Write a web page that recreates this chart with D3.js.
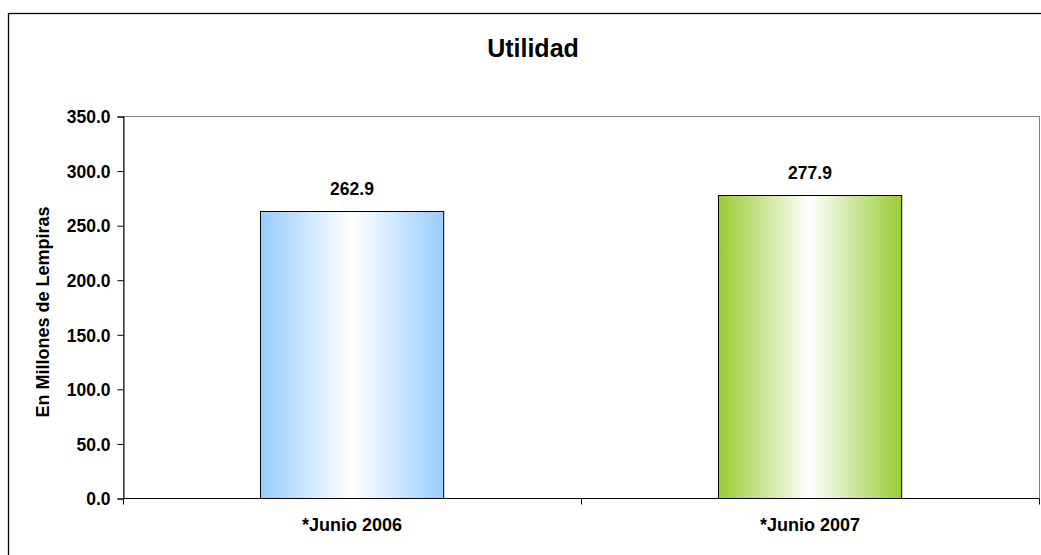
<html lang="es">
  <head>
    <title>Utilidad</title>
    <script src="https://d3js.org/d3.v7.min.js"></script>
    <style>
    body { margin: 0; background: white; }
    svg text { font-family: "Liberation Sans", Arial, sans-serif; font-weight: bold; fill: black; }
    .axis path, .axis line { stroke: black; }
    </style>
  </head>
  <body>
    <svg id="chart" width="1041" height="555"></svg>
    <script>
      var categories = ["*Junio 2006", "*Junio 2007"];
      var values = [262.9, 277.9];
      var barColors = ["#99ccff", "#99cc33"];
      var yTicks = [0, 50, 100, 150, 200, 250, 300, 350];

      var svg = d3.select("#chart");
      var pLeft = 123, pTop = 116, pRight = 1039, pBottom = 498;

      // outer chart border
      svg.append("rect").attr("x", 8.5).attr("y", 13.5)
        .attr("width", 1100).attr("height", 600)
        .attr("fill", "white").attr("stroke", "black").attr("stroke-width", 1.3);

      var defs = svg.append("defs");
      barColors.forEach(function(c, i) {
        var g = defs.append("linearGradient").attr("id", "grad" + i)
          .attr("x1", "0%").attr("x2", "100%").attr("y1", "0%").attr("y2", "0%");
        g.append("stop").attr("offset", "0%").attr("stop-color", c);
        g.append("stop").attr("offset", "50%").attr("stop-color", "white");
        g.append("stop").attr("offset", "100%").attr("stop-color", c);
      });

      var x = d3.scaleBand().domain(categories).range([pLeft, pRight]).paddingInner(0).paddingOuter(0);
      var y = d3.scaleLinear().domain([0, 350]).range([pBottom, pTop]);

      // plot area border
      svg.append("rect").attr("x", pLeft + 0.5).attr("y", pTop + 0.5)
        .attr("width", pRight - pLeft).attr("height", pBottom - pTop)
        .attr("fill", "white").attr("stroke", "#808080").attr("stroke-width", 1);

      var bw = x.bandwidth() * 0.4;
      svg.selectAll(".bar").data(values).enter().append("rect")
        .attr("class", "bar")
        .attr("x", function(d, i) { return Math.round(x(categories[i]) + (x.bandwidth() - bw) / 2) + 0.5; })
        .attr("y", function(d) { return Math.round(y(d)) + 0.5; })
        .attr("width", bw)
        .attr("height", function(d) { return pBottom - Math.round(y(d)); })
        .attr("fill", function(d, i) { return "url(#grad" + i + ")"; })
        .attr("stroke", "black").attr("stroke-width", 1);

      svg.selectAll(".val").data(values).enter().append("text")
        .attr("class", "val")
        .attr("x", function(d, i) { return x(categories[i]) + x.bandwidth() / 2; })
        .attr("y", function(d) { return y(d) - 16; })
        .attr("text-anchor", "middle").attr("font-size", 17.5)
        .text(function(d) { return d.toFixed(1); });

      var yAxis = svg.append("g").attr("class", "axis")
        .attr("transform", "translate(" + (pLeft + 0.5) + ",0.5)")
        .call(d3.axisLeft(y).tickValues(yTicks).tickSize(6).tickPadding(7)
          .tickFormat(function(d) { return d.toFixed(1); }));
      yAxis.selectAll("text").attr("font-size", 17.5).attr("dy", "0.36em");

      var xAxis = svg.append("g").attr("class", "axis")
        .attr("transform", "translate(0," + (pBottom + 0.5) + ")");
      xAxis.append("line").attr("x1", pLeft).attr("x2", pRight).attr("stroke", "black");
      xAxis.selectAll(".tk").data([pLeft, x(categories[1]), pRight]).enter().append("line")
        .attr("x1", function(d) { return d + 0.5; }).attr("x2", function(d) { return d + 0.5; })
        .attr("y1", 0).attr("y2", 6).attr("stroke", "black");
      xAxis.selectAll(".cat").data(categories).enter().append("text")
        .attr("x", function(d) { return x(d) + x.bandwidth() / 2; })
        .attr("y", 32).attr("text-anchor", "middle").attr("font-size", 18)
        .text(function(d) { return d; });

      svg.append("text").attr("x", 533).attr("y", 57)
        .attr("text-anchor", "middle").attr("font-size", 25).text("Utilidad");

      svg.append("text")
        .attr("transform", "translate(49,312) rotate(-90)")
        .attr("text-anchor", "middle").attr("font-size", 18)
        .text("En Millones de Lempiras");
    </script>
  </body>
</html>
